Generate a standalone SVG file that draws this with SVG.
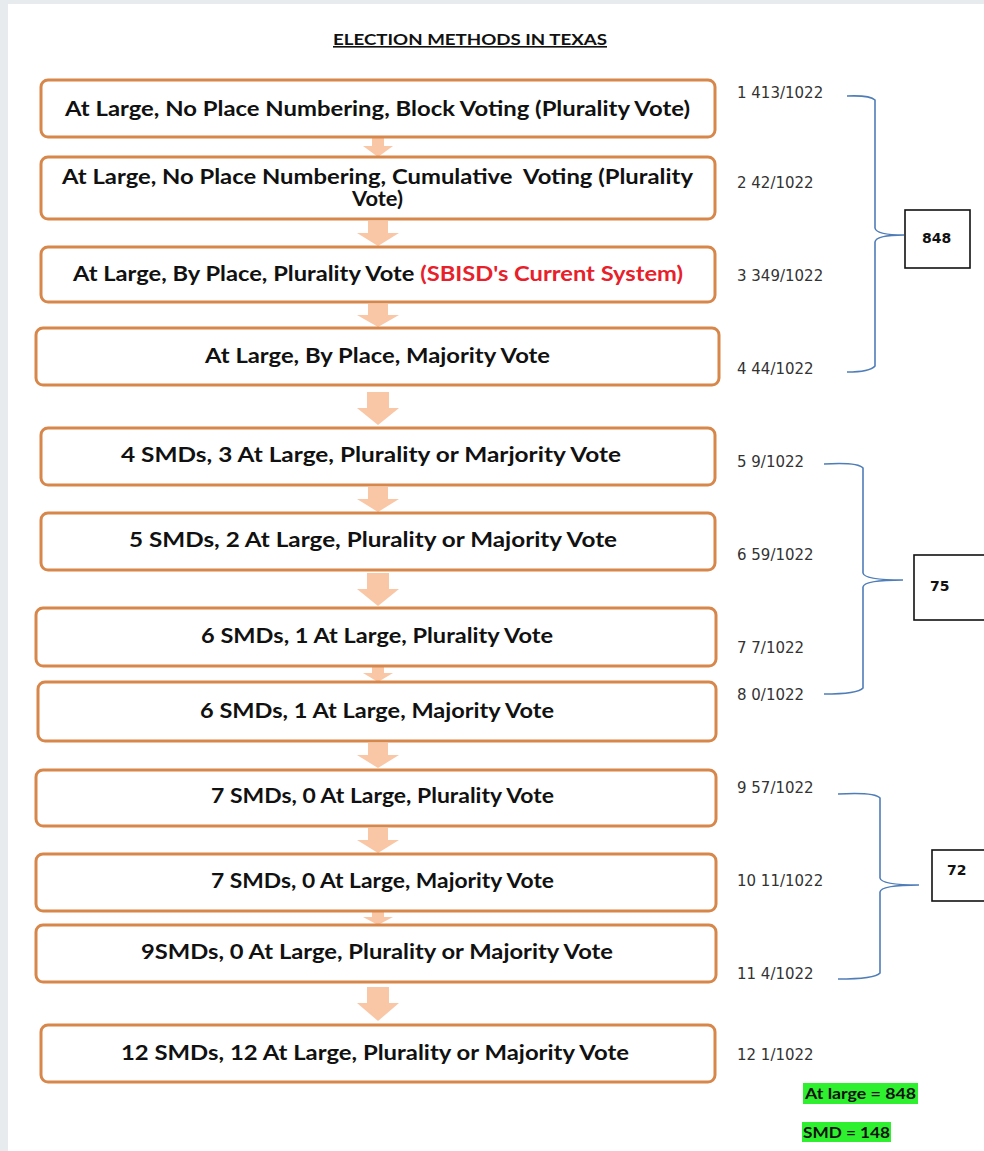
<svg xmlns="http://www.w3.org/2000/svg" width="984" height="1151" viewBox="0 0 984 1151">
<defs>
<style>
.bg{fill:#ffffff}
.box{fill:#ffffff;stroke:#d8874b;stroke-width:3}
.t{font-family:Lato,"Liberation Sans",sans-serif;font-weight:bold;font-size:20.5px;fill:#111;text-anchor:middle}
.red{fill:#e8202a}
.num{font-family:"DejaVu Sans",Verdana,sans-serif;font-size:15px;fill:#333}
.arr{fill:#f9c7a6}
.br{fill:none;stroke:#4f7db8;stroke-width:1.6}
.sum{fill:#fff;stroke:#111;stroke-width:1.6}
.st{font-family:"DejaVu Sans",Verdana,sans-serif;font-weight:bold;font-size:14px;fill:#111}
.gt{font-family:Lato,"Liberation Sans",sans-serif;font-weight:bold;font-size:15px;fill:#111}
.grn{fill:#2ef02e}
.title{font-family:Lato,"Liberation Sans",sans-serif;font-weight:bold;font-size:16px;fill:#111;text-anchor:middle;text-decoration:underline}
</style>
</defs>
<rect x="0" y="0" width="984" height="1151" fill="#e8ebee"/>
<rect x="8" y="4" width="976" height="1147" class="bg"/>
<text class="title" x="470" y="45" textLength="274" lengthAdjust="spacingAndGlyphs">ELECTION METHODS IN TEXAS</text>

<g id="connectors">
<path class="arr" d="M372,138 h12 v8 h9 l-15,11 l-15,-11 h9 z"/>
<path class="arr" d="M368,221 h20 v12 h11 l-21,13 l-21,-13 h11 z"/>
<path class="arr" d="M368,304 h20 v11 h11 l-21,12 l-21,-12 h11 z"/>
<path class="arr" d="M367,392 h22 v16 h10 l-21,17 l-21,-17 h10 z"/>
<path class="arr" d="M368,487 h20 v12 h11 l-21,13 l-21,-13 h11 z"/>
<path class="arr" d="M367,573 h22 v16 h10 l-21,17 l-21,-17 h10 z"/>
<path class="arr" d="M372,667 h12 v6 h9 l-15,9 l-15,-9 h9 z"/>
<path class="arr" d="M368,743 h20 v12 h11 l-21,13 l-21,-13 h11 z"/>
<path class="arr" d="M368,828 h20 v12 h11 l-21,13 l-21,-13 h11 z"/>
<path class="arr" d="M372,912 h12 v5 h9 l-15,8 l-15,-8 h9 z"/>
<path class="arr" d="M367,987 h22 v16 h10 l-21,18 l-21,-18 h10 z"/>
</g>

<g id="n1"><rect class="box" x="41" y="80" width="674" height="57" rx="7"/><text class="t" x="377.5" y="116" textLength="625" lengthAdjust="spacingAndGlyphs">At Large, No Place Numbering, Block Voting (Plurality Vote)</text></g>
<g id="n2"><rect class="box" x="41" y="157" width="674" height="62" rx="7"/><text class="t" x="377.5" y="184" textLength="631" lengthAdjust="spacingAndGlyphs" xml:space="preserve">At Large, No Place Numbering, Cumulative  Voting (Plurality</text><text class="t" x="377.5" y="206" textLength="51" lengthAdjust="spacingAndGlyphs">Vote)</text></g>
<g id="n3"><rect class="box" x="41" y="247" width="674" height="55" rx="7"/><text class="t" x="378" y="281" textLength="610" lengthAdjust="spacingAndGlyphs">At Large, By Place, Plurality Vote <tspan class="red">(SBISD's Current System)</tspan></text></g>
<g id="n4"><rect class="box" x="36" y="328" width="683" height="57" rx="7"/><text class="t" x="377.5" y="363" textLength="345" lengthAdjust="spacingAndGlyphs">At Large, By Place, Majority Vote</text></g>
<g id="n5"><rect class="box" x="41" y="428" width="674" height="57" rx="7"/><text class="t" x="371" y="462" textLength="500" lengthAdjust="spacingAndGlyphs">4 SMDs, 3 At Large, Plurality or Marjority Vote</text></g>
<g id="n6"><rect class="box" x="41" y="513" width="674" height="57" rx="7"/><text class="t" x="373" y="547" textLength="488" lengthAdjust="spacingAndGlyphs">5 SMDs, 2 At Large, Plurality or Majority Vote</text></g>
<g id="n7"><rect class="box" x="36" y="608" width="680" height="58" rx="7"/><text class="t" x="377" y="643" textLength="352" lengthAdjust="spacingAndGlyphs">6 SMDs, 1 At Large, Plurality Vote</text></g>
<g id="n8"><rect class="box" x="38" y="682" width="678" height="59" rx="7"/><text class="t" x="377" y="718" textLength="354" lengthAdjust="spacingAndGlyphs">6 SMDs, 1 At Large, Majority Vote</text></g>
<g id="n9"><rect class="box" x="36" y="770" width="680" height="56" rx="7"/><text class="t" x="382.5" y="803" textLength="343" lengthAdjust="spacingAndGlyphs">7 SMDs, 0 At Large, Plurality Vote</text></g>
<g id="n10"><rect class="box" x="36" y="854" width="680" height="57" rx="7"/><text class="t" x="382.5" y="888" textLength="343" lengthAdjust="spacingAndGlyphs">7 SMDs, 0 At Large, Majority Vote</text></g>
<g id="n11"><rect class="box" x="36" y="925" width="680" height="57" rx="7"/><text class="t" x="377" y="959" textLength="472" lengthAdjust="spacingAndGlyphs">9SMDs, 0 At Large, Plurality or Majority Vote</text></g>
<g id="n12"><rect class="box" x="41" y="1025" width="674" height="57" rx="7"/><text class="t" x="375" y="1060" textLength="508" lengthAdjust="spacingAndGlyphs">12 SMDs, 12 At Large, Plurality or Majority Vote</text></g>

<g id="counts">
<text class="num" x="737" y="98">1 413/1022</text>
<text class="num" x="737" y="188">2 42/1022</text>
<text class="num" x="737" y="281">3 349/1022</text>
<text class="num" x="737" y="374">4 44/1022</text>
<text class="num" x="737" y="467">5 9/1022</text>
<text class="num" x="737" y="560">6 59/1022</text>
<text class="num" x="737" y="653">7 7/1022</text>
<text class="num" x="737" y="700">8 0/1022</text>
<text class="num" x="737" y="793">9 57/1022</text>
<text class="num" x="737" y="886">10 11/1022</text>
<text class="num" x="737" y="979">11 4/1022</text>
<text class="num" x="737" y="1060">12 1/1022</text>
</g>

<g id="brackets">
<path class="br" d="M847,96 Q870,95 875,100 V228 Q876,235 904,235 M875,242 Q876,235 904,235 M875,242 V366 Q870,372 847,372"/>
<path class="br" d="M824,464 Q858,462 863,468 V573 Q864,580 903,580 M863,587 Q864,580 903,580 M863,587 V688 Q858,694 824,694"/>
<path class="br" d="M838,794 Q875,792 880,798 V878 Q881,885 919,885 M880,892 Q881,885 919,885 M880,892 V973 Q875,979 838,979"/>
</g>

<g id="s848"><rect class="sum" x="905" y="210" width="65" height="58"/><text class="st" x="922" y="243">848</text></g>
<g id="s75"><rect class="sum" x="914" y="555" width="72" height="65"/><text class="st" x="930" y="591">75</text></g>
<g id="s72"><rect class="sum" x="932" y="850" width="54" height="51"/><text class="st" x="947" y="875">72</text></g>

<g id="totals">
<rect class="grn" x="803" y="1083" width="115" height="21"/>
<text class="gt" x="805" y="1099" textLength="111" lengthAdjust="spacingAndGlyphs">At large = 848</text>
<rect class="grn" x="802" y="1122" width="89" height="20"/>
<text class="gt" x="803" y="1138" textLength="87" lengthAdjust="spacingAndGlyphs">SMD = 148</text>
</g>
</svg>
